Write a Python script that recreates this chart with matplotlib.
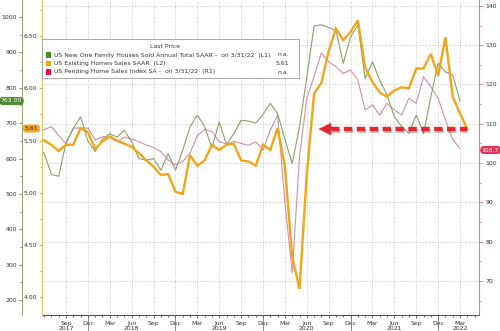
import matplotlib
matplotlib.use('Agg')
import matplotlib.pyplot as plt
import matplotlib.font_manager as fm
from matplotlib import patheffects as pe
from matplotlib.ticker import MultipleLocator, FixedLocator
from matplotlib.transforms import blended_transform_factory
import pandas as pd

# ---------------- data ----------------
existing_months = pd.period_range('2017-05', '2022-04', freq='M')   # orange (L2)
other_months = pd.period_range('2017-05', '2022-03', freq='M')      # green (L1), pink (R1)

existing_sales = [5.52, 5.50, 5.46, 5.40, 5.46, 5.46, 5.62, 5.58,
                  5.42, 5.49, 5.54, 5.50, 5.47, 5.44, 5.38, 5.31, 5.25, 5.17, 5.18, 5.01,
                  4.99, 5.36, 5.26, 5.31, 5.46, 5.41, 5.46, 5.47, 5.31, 5.30, 5.26, 5.46,
                  5.41, 5.62, 5.25, 4.39, 4.08, 5.18, 5.95, 6.05, 6.36, 6.57, 6.46, 6.54,
                  6.65, 6.20, 6.06, 5.96, 5.92, 5.98, 6.01, 6.00, 6.19, 6.19, 6.33, 6.12,
                  6.49, 5.92, 5.76, 5.61]

new_home_sales = [640, 615, 555, 550, 645, 685, 718, 650,
                  620, 655, 670, 661, 680, 647, 600, 595, 600, 567, 614, 567,
                  624, 690, 723, 690, 630, 704, 640, 670, 708, 706, 700, 725,
                  756, 727, 655, 586, 690, 830, 975, 978, 970, 962, 869, 944,
                  977, 826, 873, 821, 779, 718, 690, 671, 723, 671, 774, 869,
                  845, 836, 763]

pending_index = [108.0, 108.5, 109.3, 107.0, 104.9, 108.9, 108.9, 108.9,
                 105.9, 106.7, 106.5, 105.4, 106.6, 106.1, 105.4, 104.6, 104.0, 102.9, 100.8, 99.5,
                 100.4, 102.5, 107.0, 108.5, 108.0, 105.5, 104.8, 105.5, 105.0, 104.5, 105.4, 103.3,
                 108.4, 112.2, 90.0, 72.0, 101.6, 116.5, 122.0, 128.0, 125.8, 124.5, 122.8, 123.7,
                 121.1, 113.5, 114.8, 112.2, 115.2, 113.5, 112.2, 116.5, 115.2, 122.0, 119.4, 116.5,
                 111.0, 106.0, 103.7]

legend_names = ["US New One Family Houses Sold Annual Total SAAR -  on 3/31/22  (L1)",
                "US Existing Homes Sales SAAR  (L2)",
                "US Pending Home Sales Index SA -  on 3/31/22  (R1)"]
legend_values = ["n.a.", "5.61", "n.a."]

l1_ticks = [200, 300, 400, 500, 600, 700, 800, 900, 1000]
l2_ticks = [4.00, 4.50, 5.00, 5.50, 6.00, 6.50]
r1_ticks = [70, 80, 90, 100, 110, 120, 130, 140]

# ---------------- style ----------------
names = {f.name for f in fm.fontManager.ttflist}
FONT = 'Liberation Sans Narrow' if 'Liberation Sans Narrow' in names else 'DejaVu Sans'
FS = 5.3 if FONT != 'DejaVu Sans' else 4.4
plt.rcParams['font.family'] = [FONT, 'DejaVu Sans']

C_GREEN = '#8c9f66'
C_ORANGE = '#f2a516'
C_PINK = '#cf8fb0'
C_TXT = '#333333'

base = pd.Period('2017-01', freq='M')
def idx(periods):
    return [(p - base).n for p in periods]

x_exist = idx(existing_months)
x_other = idx(other_months)

fig = plt.figure(figsize=(5.0, 3.31), dpi=100)
ax_r = fig.add_axes([0.084, 0.048, 0.874, 0.952])
ax_l1 = ax_r.twinx()
ax_l2 = ax_r.twinx()

XMIN, XMAX = 4.71, 64.6
for a in (ax_r, ax_l1, ax_l2):
    a.set_xlim(XMIN, XMAX)
    a.patch.set_visible(False)
    for s in a.spines.values():
        s.set_visible(False)

ax_r.set_ylim(61.3, 141.5)
ax_l1.set_ylim(157.6, 1048)
ax_l2.set_ylim(3.83, 6.845)

# right axis (pending)
ax_r.yaxis.tick_right()
ax_r.spines['right'].set_visible(True)
ax_r.spines['right'].set_color('#e07a98')
ax_r.spines['bottom'].set_visible(True)
ax_r.spines['bottom'].set_color('#555555')
ax_r.set_yticks(r1_ticks)
ax_r.set_yticklabels([str(v) for v in r1_ticks])
ax_r.yaxis.set_minor_locator(MultipleLocator(5))
ax_r.tick_params(axis='y', which='both', colors='#e07a98', labelcolor=C_TXT,
                 labelsize=FS, length=3, width=0.6, pad=1.5, direction='out')
ax_r.tick_params(axis='y', which='minor', length=1.5)

# left outer axis (new home sales)
ax_l1.yaxis.tick_left()
ax_l1.spines['left'].set_visible(True)
ax_l1.spines['left'].set_position(('outward', 14.4))
ax_l1.spines['left'].set_color('#a0a878')
ax_l1.set_yticks(l1_ticks)
ax_l1.set_yticklabels([str(v) for v in l1_ticks])
ax_l1.yaxis.set_minor_locator(MultipleLocator(50))
ax_l1.tick_params(axis='y', which='both', colors='#6b7a4a', labelcolor=C_TXT,
                  labelsize=FS, length=2.5, width=0.6, pad=1.0)
ax_l1.tick_params(axis='y', which='minor', length=1.3)

# left inner axis (existing home sales)
ax_l2.yaxis.tick_left()
ax_l2.spines['left'].set_visible(True)
ax_l2.spines['left'].set_color('#e8c25a')
ax_l2.set_yticks(l2_ticks)
ax_l2.set_yticklabels([f"{v:.2f}" for v in l2_ticks])
ax_l2.yaxis.set_minor_locator(MultipleLocator(0.25))
ax_l2.tick_params(axis='y', which='both', colors='#c89a30', labelcolor=C_TXT,
                  labelsize=FS, length=2.5, width=0.6, pad=1.0)
ax_l2.tick_params(axis='y', which='minor', length=1.3)

# x axis
quarters = [p for p in pd.period_range('2017-09', '2022-03', freq='M') if p.month in (3, 6, 9, 12)]
qx = idx(quarters)
ax_r.set_xticks(qx)
ax_r.set_xticklabels([p.strftime('%b') for p in quarters])
ax_r.xaxis.set_minor_locator(FixedLocator(idx(pd.period_range('2017-05', '2022-06', freq='M'))))
ax_r.tick_params(axis='x', which='both', colors='#555555', labelcolor=C_TXT,
                 labelsize=FS, length=2.5, width=0.6, pad=1.5)
ax_r.tick_params(axis='x', which='minor', length=1.5)
for a in (ax_l1, ax_l2):
    a.tick_params(axis='x', which='both', bottom=False, top=False,
                  labelbottom=False, labeltop=False)

# grid
ax_r.grid(True, which='major', axis='both', color='#b5b5b5', linestyle=(0, (1, 2)), linewidth=0.6)
ax_r.set_axisbelow(True)

# year labels and separators
year_lab = [('2017-09', '2017'), ('2018-06', '2018'), ('2019-06', '2019'),
            ('2020-06', '2020'), ('2021-06', '2021'), ('2022-03', '2022')]
trans = blended_transform_factory(ax_r.transData, ax_r.transAxes)
for p, t in year_lab:
    ax_r.text((pd.Period(p, 'M') - base).n, -0.042, t, transform=trans, ha='center', va='center',
              fontsize=FS, color=C_TXT, clip_on=False)
for yr in range(2017, 2022):
    xs = (pd.Period(f'{yr}-12', 'M') - base).n
    ax_r.plot([xs, xs], [-0.01, -0.05], transform=trans, color='#777777',
              lw=0.6, clip_on=False)

# series
ax_r.plot(x_other, pending_index, color=C_PINK, lw=0.8, zorder=3)
ax_l1.plot(x_other, new_home_sales, color=C_GREEN, lw=0.8, zorder=3)
ax_l2.plot(x_exist, existing_sales, color=C_ORANGE, lw=1.7, zorder=4,
           solid_joinstyle='miter')

# red dashed arrow towards latest existing sales level
y_last = existing_sales[-1]
x_last = x_exist[-1]
tip = 42.6
ax_l2.plot([tip + 1.7, x_last], [y_last, y_last], color='#e3262f', lw=3.2,
           dashes=(1.9, 1.0), solid_capstyle='butt', dash_capstyle='butt', zorder=6,
           path_effects=[pe.SimpleLineShadow(offset=(0.8, -1.2), shadow_color='#555555', alpha=0.35),
                         pe.Normal()])
ax_l2.annotate('', xy=(tip, y_last), xytext=(tip + 1.9, y_last),
               arrowprops=dict(arrowstyle='-|>,head_length=0.9,head_width=0.45',
                               color='#e3262f', lw=0.1, shrinkA=0, shrinkB=0),
               zorder=6)

# legend box
def fy(py):
    return 1 - py / 331.0
def fx(px):
    return px / 500.0

leg = plt.Rectangle((fx(42), fy(78)), fx(299) - fx(42), fy(39) - fy(78),
                    transform=fig.transFigure, facecolor='white', edgecolor='#9a9a9a',
                    lw=0.6, zorder=10)
fig.add_artist(leg)
fig.text(fx(150), fy(47), 'Last Price', fontsize=FS, color=C_TXT, va='center', ha='left', zorder=11)
sq_colors = ['#4d8a1c', '#f5a300', '#e0114f']
rows_y = [55, 63.5, 72]
for c, n, v, ry in zip(sq_colors, legend_names, legend_values, rows_y):
    fig.add_artist(plt.Rectangle((fx(46), fy(ry + 2.6)), fx(5), 5.2 / 331,
                                 transform=fig.transFigure, facecolor=c, edgecolor='none', zorder=11))
    fig.text(fx(54), fy(ry), n, fontsize=FS, color=C_TXT, va='center', ha='left', zorder=11)
    fig.text(fx(289), fy(ry), v, fontsize=FS, color=C_TXT, va='center', ha='right', zorder=11)

# last value tags
fig.text(fx(11.5), fy(101), f"{new_home_sales[-1]:.2f}", fontsize=FS, color='white',
         ha='center', va='center', zorder=12,
         bbox=dict(boxstyle='round,pad=0.25,rounding_size=0.6', fc='#4f8a2b', ec='none'))
fig.text(fx(31.5), fy(128.5), f"{existing_sales[-1]:.2f}", fontsize=FS, color='#3a2a00',
         ha='center', va='center', zorder=12,
         bbox=dict(boxstyle='round,pad=0.25,rounding_size=0.4', fc='#f5a623', ec='none'))
fig.text(fx(490.5), fy(150), f"{pending_index[-1]:.1f}", fontsize=FS, color='white',
         ha='center', va='center', zorder=12,
         bbox=dict(boxstyle='round,pad=0.25,rounding_size=0.6', fc='#e0335e', ec='none'))

fig.savefig('out.png', dpi=100)
